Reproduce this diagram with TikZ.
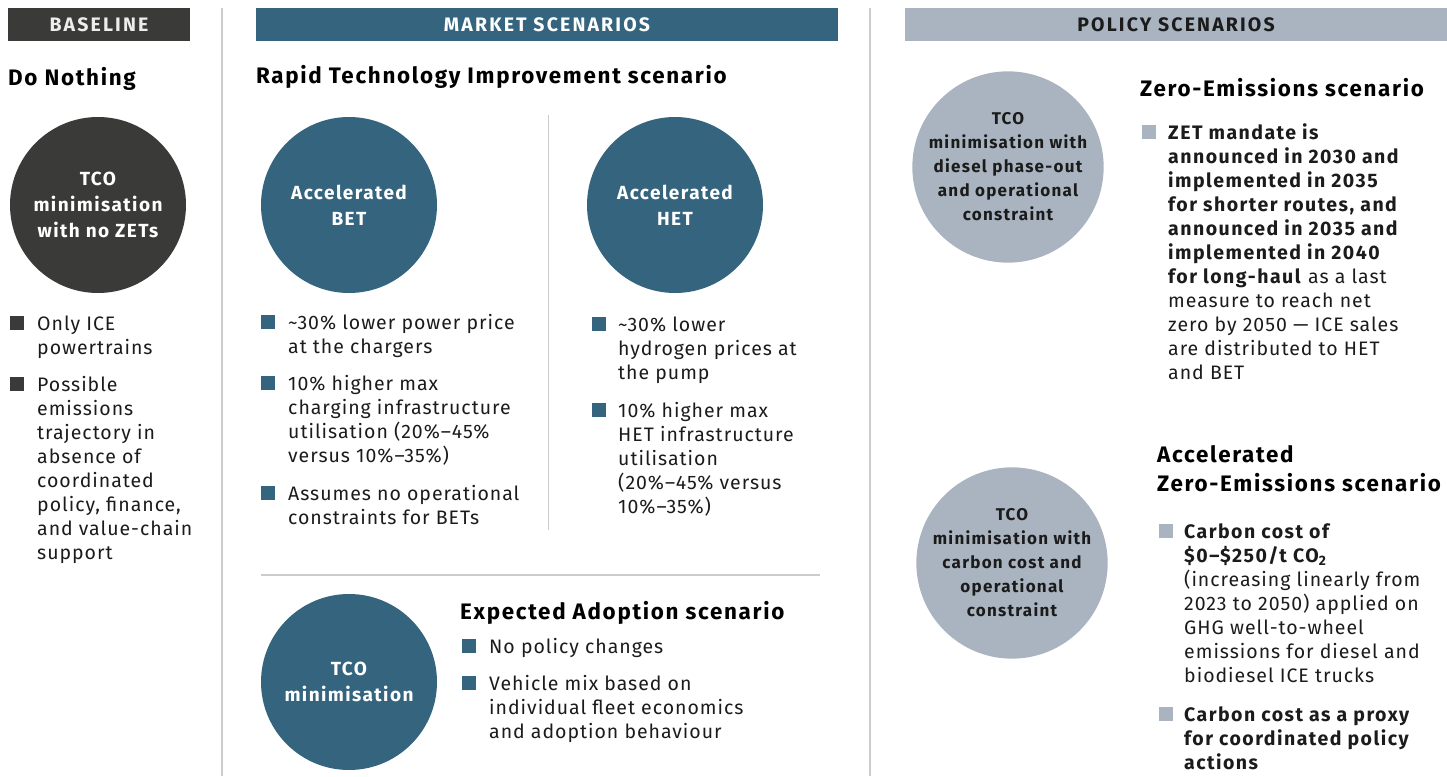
\documentclass[tikz,border=0pt]{standalone}
\usepackage{fontspec}
\setmainfont{Fira Sans}[UprightFeatures={LetterSpace=5}, BoldFeatures={LetterSpace=7.5}]
\newfontfamily\hdrfont{Fira Sans}[LetterSpace=11]
\newcommand\mlines[1]{\begin{tabular}[t]{@{}l@{}}#1\end{tabular}}
\definecolor{cdark}{HTML}{3A3B38}
\definecolor{cblue}{HTML}{35647E}
\definecolor{cgray}{HTML}{A9B4C0}
\definecolor{csep}{HTML}{CCCCCC}
\definecolor{ctext}{HTML}{1B1B1B}
\tikzset{
  hdr/.style={fill=#1, minimum height=33pt, inner sep=0, font=\hdrfont\fontsize{19.5}{21}\selectfont\bfseries},
  circ/.style={circle, fill=#1, minimum size=176pt, inner sep=0, align=center, font=\fontsize{19}{26}\selectfont\bfseries},
  pcirc/.style={circle, fill=#1, minimum size=176pt, inner sep=0, align=center, text=ctext, font=\fontsize{17}{24}\selectfont\bfseries},
  ttl/.style={anchor=base west, inner sep=0, text=black, font=\fontsize{22.4}{29}\selectfont\bfseries},
  sq/.style={fill=#1, minimum size=14pt, inner sep=0, anchor=south west},
  bt/.style={anchor=base west, inner sep=0, text=ctext, font=\fontsize{19.5}{24}\selectfont},
  sepline/.style={draw=csep, line width=1.2pt}
}
\begin{document}
\begin{tikzpicture}[x=1pt,y=-1pt]
\useasboundingbox (0,0) rectangle (1447,776);
% separators
\coordinate (v1a) at (222,8); \coordinate (v1b) at (222,776);
\coordinate (v2a) at (870,8); \coordinate (v2b) at (870,776);
\coordinate (v3a) at (548,115); \coordinate (v3b) at (548,530);
\coordinate (h1a) at (261,575); \coordinate (h1b) at (820,575);
\draw[sepline] (v1a) -- (v1b);
\draw[sepline] (v2a) -- (v2b);
\draw[sepline, line width=0.8pt] (v3a) -- (v3b);
\draw[sepline] (h1a) -- (h1b);
% headers
\node[hdr=cdark, minimum width=182pt, text=white!93!black] (hbase) at (99,24.5) {BASELINE};
\node[hdr=cblue, minimum width=582pt, text=white] (hmarket) at (547,24.5) {MARKET SCENARIOS};
\node[hdr=cgray, minimum width=542pt, text=ctext] (hpolicy) at (1176,24.5) {POLICY SCENARIOS};
% baseline column
\node[ttl] (tdo) at (8,85) {Do Nothing};
\node[circ=cdark, text=white] (c0) at (98,205) {TCO\\minimisation\\with no ZETs};
\node[sq=cdark] (s01) at (10,330) {};
\node[bt] (t01) at (37,330) {\mlines{Only ICE\\powertrains}};
\node[sq=cdark] (s02) at (10,391) {};
\node[bt] (t02) at (37,391) {\mlines{Possible\\emissions\\trajectory in\\absence of\\coordinated\\policy, finance,\\and value-chain\\support}};
% market column
\node[ttl] (trapid) at (256,83) {Rapid Technology Improvement scenario};
\node[circ=cblue, text=white] (c1) at (349,205) {Accelerated\\BET};
\node[circ=cblue, text=white] (c2) at (675,205) {Accelerated\\HET};
\node[sq=cblue] (s11) at (261,329) {};
\node[bt] (t11) at (288,329) {\mlines{\textasciitilde30\% lower power price\\at the chargers}};
\node[sq=cblue] (s12) at (261,390) {};
\node[bt] (t12) at (288,390) {\mlines{10\% higher max\\charging infrastructure\\utilisation (20\%–45\%\\versus 10\%–35\%)}};
\node[sq=cblue] (s13) at (261,500) {};
\node[bt] (t13) at (288,500) {\mlines{Assumes no operational\\constraints for BETs}};
\node[sq=cblue] (s21) at (592,331) {};
\node[bt] (t21) at (618,331) {\mlines{\textasciitilde30\% lower\\hydrogen prices at\\the pump}};
\node[sq=cblue] (s22) at (592,417) {};
\node[bt] (t22) at (618,417) {\mlines{10\% higher max\\HET infrastructure\\utilisation\\(20\%–45\% versus\\10\%–35\%)}};
\node[circ=cblue, text=white] (c5) at (349,682) {TCO\\minimisation};
\node[ttl] (texp) at (460,619) {Expected Adoption scenario};
\node[sq=cblue] (s31) at (462,653) {};
\node[bt] (t31) at (489,653) {No policy changes};
\node[sq=cblue] (s32) at (462,690) {};
\node[bt] (t32) at (489,690) {\mlines{Vehicle mix based on\\individual fleet economics\\and adoption behaviour}};
% policy column
\node[pcirc=cgray] (c3) at (1008,167) {TCO\\minimisation with\\diesel phase-out\\and operational\\constraint};
\node[ttl] (tze) at (1140,96) {Zero-Emissions scenario};
\node[sq=cgray] (s41) at (1142,139) {};
\node[bt] (t41) at (1168,139) {\mlines{\textbf{ZET mandate is}\\\textbf{announced in 2030 and}\\\textbf{implemented in 2035}\\\textbf{for shorter routes, and}\\\textbf{announced in 2035 and}\\\textbf{implemented in 2040}\\\textbf{for long-haul} as a last\\measure to reach net\\zero by 2050 — ICE sales\\are distributed to HET\\and BET}};
\node[ttl] (taze) at (1157,462) {\mlines{Accelerated\\Zero-Emissions scenario}};
\node[pcirc=cgray] (c4) at (1012,563) {TCO\\minimisation with\\carbon cost and\\operational\\constraint};
\node[sq=cgray] (s51) at (1159,538) {};
\node[bt] (t51) at (1184,538) {\mlines{\textbf{Carbon cost of}\\\textbf{\$0–\$250/t CO\textsubscript{2}}\\(increasing linearly from\\2023 to 2050) applied on\\GHG well-to-wheel\\emissions for diesel and\\biodiesel ICE trucks}};
\node[sq=cgray] (s52) at (1159,721) {};
\node[bt, font=\fontsize{19.5}{24}\selectfont\bfseries] (t52) at (1184,721) {\mlines{Carbon cost as a proxy\\for coordinated policy\\actions}};
\end{tikzpicture}
\end{document}
